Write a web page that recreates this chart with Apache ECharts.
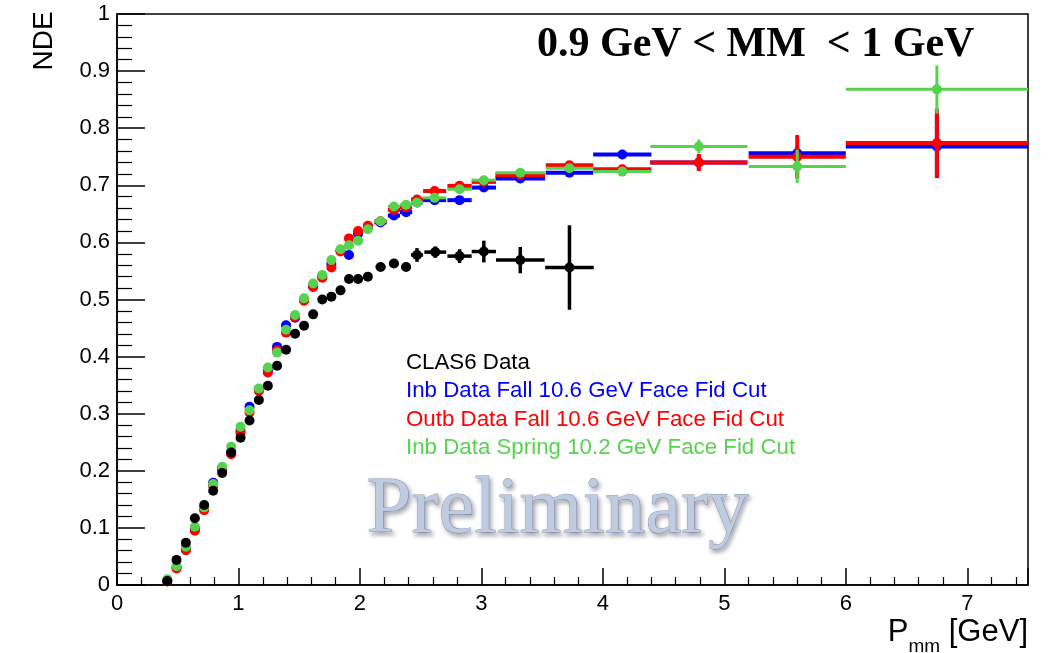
<!DOCTYPE html>
<html>
<head>
<meta charset="utf-8">
<script src="https://cdn.jsdelivr.net/npm/echarts@6/dist/echarts.min.js"></script>
<style>html,body{margin:0;padding:0;background:#fff}#c{width:1051px;height:653px}</style>
</head>
<body>
<div id="c"></div>
<script>
// ---- data ----
const xTicks = [0, 1, 2, 3, 4, 5, 6, 7];
const yTicks = [0, 0.1, 0.2, 0.3, 0.4, 0.5, 0.6, 0.7, 0.8, 0.9, 1];
const seriesNames = ['CLAS6 Data', 'Inb Data Fall 10.6 GeV Face Fid Cut', 'Outb Data Fall 10.6 GeV Face Fid Cut', 'Inb Data Spring 10.2 GeV Face Fid Cut'];

// CLAS6 bins
const clas6X = [0.414,0.49,0.567,0.641,0.718,0.792,0.866,0.94,1.017,1.091,1.168,1.242,1.318,1.392,1.466,1.54,1.615,1.69,1.765,1.84,1.91,1.985,2.065,2.17,2.28,2.38,2.47,2.62,2.82,3.02,3.32,3.725];
const clas6Y = [0.007,0.044,0.074,0.117,0.140,0.165,0.196,0.232,0.258,0.288,0.324,0.349,0.384,0.412,0.440,0.454,0.474,0.500,0.505,0.516,0.536,0.536,0.540,0.557,0.563,0.557,0.578,0.583,0.576,0.584,0.569,0.556];
const clas6XErr = [0,0,0,0,0,0,0,0,0,0,0,0,0,0,0,0,0,0,0,0,0,0,0,0.04,0.04,0.04,0.05,0.09,0.1,0.1,0.2,0.2];
const clas6YErr = [0.003,0.003,0.003,0.003,0.003,0.003,0.003,0.003,0.003,0.003,0.003,0.003,0.003,0.003,0.003,0.003,0.003,0.003,0.003,0.003,0.003,0.003,0.004,0.005,0.006,0.006,0.012,0.010,0.012,0.019,0.023,0.074];

// CLAS12 bins (shared by the three CLAS12 samples)
const c12X = [0.414,0.49,0.567,0.641,0.718,0.792,0.866,0.94,1.017,1.091,1.168,1.242,1.318,1.392,1.466,1.54,1.615,1.69,1.765,1.84,1.91,1.985,2.065,2.17,2.28,2.38,2.47,2.615,2.82,3.02,3.32,3.725,4.16,4.79,5.6,6.75];
const c12XErr = [0.037,0.037,0.037,0.037,0.037,0.037,0.037,0.037,0.037,0.037,0.037,0.037,0.037,0.037,0.037,0.037,0.037,0.037,0.037,0.037,0.037,0.037,0.037,0.05,0.05,0.05,0.05,0.095,0.1,0.1,0.205,0.195,0.24,0.4,0.4,0.75];

const inbFallY = [0.008,0.031,0.064,0.099,0.134,0.179,0.204,0.233,0.270,0.312,0.343,0.376,0.417,0.455,0.468,0.500,0.523,0.540,0.562,0.586,0.578,0.615,0.627,0.635,0.647,0.653,0.670,0.674,0.674,0.696,0.712,0.722,0.754,0.740,0.756,0.768];
const inbFallYErr = [0.002,0.002,0.002,0.002,0.002,0.002,0.002,0.002,0.002,0.002,0.002,0.002,0.002,0.002,0.002,0.002,0.002,0.002,0.002,0.002,0.002,0.002,0.003,0.003,0.003,0.003,0.003,0.004,0.004,0.004,0.005,0.006,0.008,0.012,0.012,0.055];

const outbFallY = [0.006,0.029,0.061,0.095,0.131,0.174,0.201,0.229,0.266,0.302,0.340,0.372,0.411,0.442,0.470,0.498,0.522,0.538,0.556,0.584,0.607,0.620,0.629,0.637,0.657,0.661,0.675,0.690,0.699,0.706,0.718,0.735,0.728,0.740,0.750,0.774];
const outbFallYErr = [0.002,0.002,0.002,0.002,0.002,0.002,0.002,0.002,0.002,0.002,0.002,0.002,0.002,0.002,0.002,0.002,0.002,0.002,0.002,0.002,0.002,0.002,0.003,0.003,0.003,0.003,0.003,0.004,0.004,0.004,0.005,0.006,0.008,0.015,0.038,0.060];

const inbSpringY = [0.010,0.033,0.067,0.102,0.136,0.177,0.207,0.242,0.277,0.306,0.344,0.381,0.407,0.447,0.473,0.502,0.528,0.543,0.569,0.588,0.595,0.603,0.623,0.637,0.663,0.666,0.670,0.678,0.693,0.709,0.722,0.730,0.724,0.768,0.733,0.868];
const inbSpringYErr = [0.002,0.002,0.002,0.002,0.002,0.002,0.002,0.002,0.002,0.002,0.002,0.002,0.002,0.002,0.002,0.002,0.002,0.002,0.002,0.002,0.002,0.002,0.003,0.003,0.003,0.003,0.003,0.004,0.004,0.004,0.005,0.006,0.008,0.012,0.029,0.042];

// ---- build ----
function rows(xs, ys, exs, eys) {
  return xs.map((x, i) => [x, ys[i], exs[i], eys[i]]);
}
function errRender(lw) {
  return function (params, api) {
    const x = api.value(0), y = api.value(1), ex = api.value(2), ey = api.value(3);
    const a = api.coord([x - ex, y]), b = api.coord([x + ex, y]);
    const c = api.coord([x, y - ey]), d = api.coord([x, y + ey]);
    const st = { stroke: api.visual('color'), lineWidth: lw };
    return { type: 'group', children: [
      { type: 'line', shape: { x1: a[0], y1: a[1], x2: b[0], y2: b[1] }, style: st },
      { type: 'line', shape: { x1: c[0], y1: c[1], x2: d[0], y2: d[1] }, style: st }
    ]};
  };
}
const defs = [
  { name: seriesNames[1], color: '#0000ff', x: c12X, y: inbFallY, ex: c12XErr, ey: inbFallYErr, lw: 4, z: 2 },
  { name: seriesNames[2], color: '#ff0000', x: c12X, y: outbFallY, ex: c12XErr, ey: outbFallYErr, lw: 4, z: 3 },
  { name: seriesNames[3], color: '#57d24e', x: c12X, y: inbSpringY, ex: c12XErr, ey: inbSpringYErr, lw: 3, z: 4 },
  { name: seriesNames[0], color: '#000000', x: clas6X, y: clas6Y, ex: clas6XErr, ey: clas6YErr, lw: 3.5, z: 5 }
];
const series = [];
defs.forEach(d => {
  const data = rows(d.x, d.y, d.ex, d.ey);
  series.push({ name: d.name, type: 'custom', renderItem: errRender(d.lw), data: data, clip: true,
    itemStyle: { color: d.color }, z: d.z, silent: true, animation: false });
  series.push({ name: d.name, type: 'scatter', data: data.map(r => [r[0], r[1]]), symbol: 'circle', symbolSize: 10,
    itemStyle: { color: d.color, opacity: 1 }, z: d.z, animation: false });
});

const chart = echarts.init(document.getElementById('c'), null, { renderer: 'canvas' });
chart.setOption({
  animation: false,
  backgroundColor: '#ffffff',
  grid: { left: 117, right: 23, top: 14, bottom: 68, show: true, borderColor: '#000', borderWidth: 1.5, backgroundColor: 'transparent' },
  xAxis: {
    type: 'value', min: 0, max: 7.5, interval: 1,
    axisLine: { show: true, onZero: false, lineStyle: { color: '#000', width: 1.5 } },
    axisTick: { show: true, inside: true, length: 17, lineStyle: { color: '#000', width: 1.5 } },
    minorTick: { show: true, splitNumber: 5, length: 8, lineStyle: { color: '#000', width: 1.2 } },
    splitLine: { show: false },
    axisLabel: { color: '#000', fontSize: 22, fontFamily: 'Liberation Sans', margin: 8,
      formatter: v => (xTicks.indexOf(v) >= 0 ? String(v) : '') }
  },
  yAxis: {
    type: 'value', min: 0, max: 1, interval: 0.1,
    axisLine: { show: true, onZero: false, lineStyle: { color: '#000', width: 1.5 } },
    axisTick: { show: true, inside: true, length: 28, lineStyle: { color: '#000', width: 1.5 } },
    minorTick: { show: true, splitNumber: 5, length: 15, lineStyle: { color: '#000', width: 1.2 } },
    splitLine: { show: false },
    axisLabel: { color: '#000', fontSize: 22, fontFamily: 'Liberation Sans', margin: 7,
      formatter: v => { const t = yTicks.find(k => Math.abs(k - v) < 1e-9); return t === undefined ? '' : (t === 0 || t === 1 ? String(t) : t.toFixed(1)); } }
  },
  legend: {
    orient: 'vertical', left: 401, top: 352, padding: 0, itemGap: 6.3, icon: 'none', itemWidth: 0, itemHeight: 0,
    selectedMode: false,
    textStyle: { fontSize: 22.3, fontFamily: 'Liberation Sans', lineHeight: 22, padding: [0, 0, 0, 0] },
    data: [
      { name: seriesNames[0], textStyle: { color: '#000000' } },
      { name: seriesNames[1], textStyle: { color: '#0000ff' } },
      { name: seriesNames[2], textStyle: { color: '#ff0000' } },
      { name: seriesNames[3], textStyle: { color: '#57d24e' } }
    ]
  },
  graphic: [
    { type: 'text', left: 366, top: 470, z: 0, silent: true,
      style: { text: 'Preliminary', fontFamily: 'Liberation Serif', fontSize: 81, fill: '#bfcbe1',
        stroke: '#8c9cbc', lineWidth: 0.8, textShadowColor: 'rgba(60,60,80,0.45)', textShadowBlur: 4, textShadowOffsetX: 2, textShadowOffsetY: 3 } },
    { type: 'text', x: 537, y: 45, z: 10, silent: true,
      style: { text: '0.9 GeV < MM  < 1 GeV', fontFamily: 'Liberation Serif', fontWeight: 'bold', fontSize: 42, fill: '#000', verticalAlign: 'middle', align: 'left' } },
    { type: 'text', x: 44, y: 41, rotation: Math.PI / 2, z: 10, silent: true,
      style: { text: 'NDE', fontFamily: 'Liberation Sans', fontSize: 28, fill: '#000', align: 'center', verticalAlign: 'middle' } },
    { type: 'text', right: 23, top: 617, z: 10, silent: true,
      style: { text: '{p|P}{s|mm}{p| [GeV]}', fill: '#000',
        rich: { p: { fontFamily: 'Liberation Sans', fontSize: 31, fill: '#000', verticalAlign: 'bottom', lineHeight: 30 },
                s: { fontFamily: 'Liberation Sans', fontSize: 19, fill: '#000', verticalAlign: 'bottom', lineHeight: 30, padding: [0, 0, -8, 0] } } } }
  ],
  series: series
});
</script>
</body>
</html>
